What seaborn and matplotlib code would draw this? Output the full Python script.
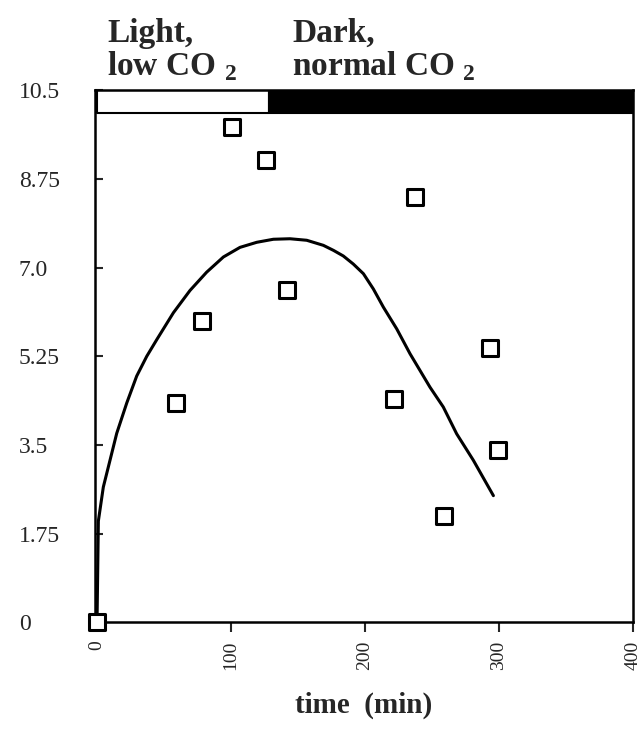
import matplotlib
matplotlib.use("Agg")
import matplotlib.pyplot as plt
import seaborn as sns
import pandas as pd

# ---- data ----
obs_time = [0, 59, 78, 101, 126, 142, 222, 237, 259, 293, 299]
obs_value = [0.0, 4.32, 5.94, 9.78, 9.13, 6.55, 4.40, 8.40, 2.09, 5.42, 3.41]

fit_time = [0, 1.0, 4.7, 9.7, 14.7, 22.2, 29.6, 37.1, 44.6, 57, 69.4, 81.8, 94.3,
            106.7, 119.2, 131.6, 144, 156.5, 168.9, 176.5, 183.8, 191.3, 198.8,
            206.2, 213.7, 223.7, 233.6, 248.5, 258.4, 268.4, 280.8, 295.8]
fit_value = [0.0, 2.0, 2.67, 3.20, 3.73, 4.33, 4.86, 5.25, 5.58, 6.11, 6.55, 6.91, 7.21,
             7.40, 7.50, 7.56, 7.57, 7.54, 7.44, 7.34, 7.23, 7.07, 6.88,
             6.58, 6.22, 5.79, 5.30, 4.64, 4.25, 3.72, 3.20, 2.50]

phase_starts = [0, 128]
phase_widths = [128, 272]
phase_colors = ["white", "black"]
phase_labels = ["Light,\nlow CO $_{\\mathbf{2}}$", "Dark,\nnormal CO $_{\\mathbf{2}}$"]

y_ticks = [0, 1.75, 3.5, 5.25, 7.0, 8.75, 10.5]
y_ticklabels = ["0", "1.75", "3.5", "5.25", "7.0", "8.75", "10.5"]
x_ticks = [0, 100, 200, 300, 400]
x_ticklabels = ["0", "100", "200", "300", "400"]

sns.set_theme(style="white")
plt.rcParams["font.family"] = ["Liberation Serif", "DejaVu Serif"]
plt.rcParams["mathtext.fontset"] = "custom"
plt.rcParams["mathtext.rm"] = "Liberation Serif"
plt.rcParams["mathtext.bf"] = "Liberation Serif:bold"

fig = plt.figure(figsize=(6.42, 7.40), dpi=100)
ax = fig.add_axes([0.148, 0.159, 0.838, 0.719])

obs = pd.DataFrame({"time": obs_time, "value": obs_value})
fit = pd.DataFrame({"time": fit_time, "value": fit_value})

sns.lineplot(data=fit, x="time", y="value", sort=False, color="black", linewidth=2.2, ax=ax)
sns.scatterplot(data=obs, x="time", y="value", marker="s", s=140, facecolor="white",
                edgecolor="black", linewidth=2.2, ax=ax, clip_on=False, zorder=5)

# light/dark bar at top
for st, w, c in zip(phase_starts, phase_widths, phase_colors):
    ax.broken_barh([(st, w)], (10.06, 0.44), facecolors=c, edgecolor="black", linewidth=1.5)

ax.set_xlim(-1.5, 400)
ax.set_ylim(0, 10.5)
ax.set_yticks(y_ticks)
ax.set_yticklabels(y_ticklabels, fontsize=17)
ax.set_xticks(x_ticks)
ax.set_xticklabels(x_ticklabels, fontsize=14, rotation=90)
ax.tick_params(axis="y", direction="in", length=6, width=1.5, pad=55, left=True)
ax.tick_params(axis="x", direction="out", length=7, width=1.5, pad=6, bottom=True)
for lab in ax.get_yticklabels():
    lab.set_horizontalalignment("left")
for sp in ax.spines.values():
    sp.set_color("black")
    sp.set_linewidth(1.8)

ax.set_xlabel("time  (min)", fontsize=21, fontweight="bold", labelpad=16)
ax.set_ylabel("")

label_x = [0.167, 0.455]
for lx, txt in zip(label_x, phase_labels):
    fig.text(lx, 0.888, txt, fontsize=24, fontweight="bold", ha="left", va="bottom",
             linespacing=1.0)

fig.savefig("out.png", dpi=100)
